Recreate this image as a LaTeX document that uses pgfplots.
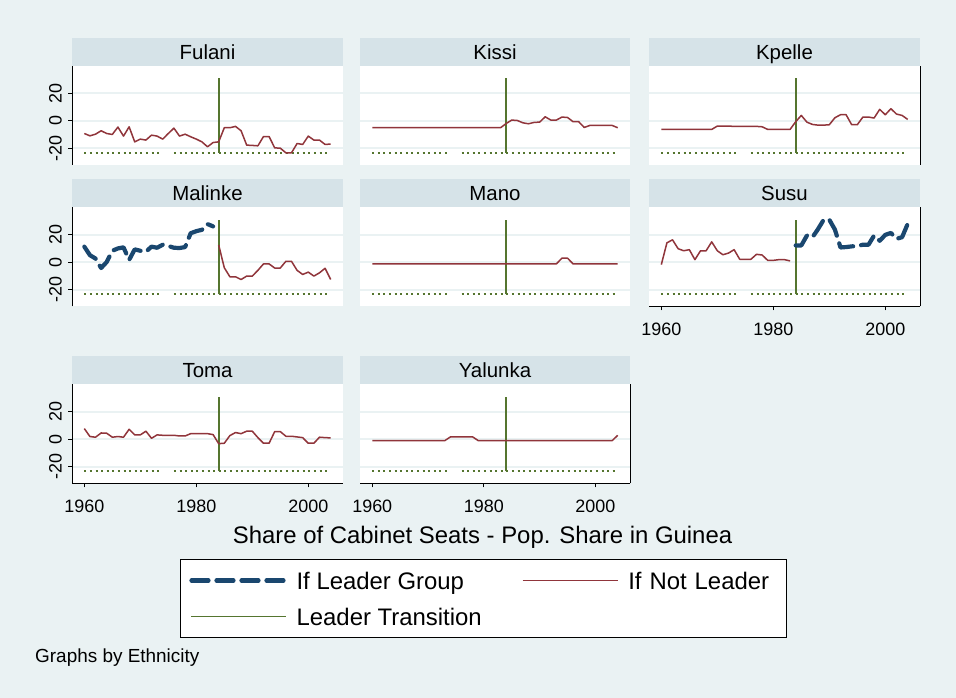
\documentclass[border=0pt]{standalone}
\usepackage{pgfplots}
\pgfplotsset{compat=1.18}
\usepackage{fontspec}
\setmainfont{Liberation Sans}
\definecolor{bgc}{RGB}{234,242,243}
\definecolor{headc}{RGB}{214,227,232}
\definecolor{gridc}{RGB}{234,242,243}
\definecolor{snavy}{RGB}{26,71,111}
\definecolor{smaroon}{RGB}{144,53,59}
\definecolor{sforest}{RGB}{85,117,47}

\pgfplotsset{
  panel/.style={
    scale only axis, width=271bp, height=99bp,
    anchor=south west,
    xmin=1957.8, xmax=2006.2, ymin=-32.3, ymax=40,
    xtick={1960,1980,2000}, ytick={-20,0,20},
    axis x line*=bottom, axis y line*=left,
    x axis line style={draw=none}, y axis line style={draw=none},
    xtick style={draw=none}, ytick style={draw=none},
    xticklabels={}, yticklabels={},
    ymajorgrids, major grid style={draw=gridc, line width=2bp},
    axis background/.style={fill=white},
    tick align=outside, major tick length=4bp,
    ticklabel style={font=\fontsize{18}{20}\selectfont},
    clip=false,
    extra description/.code={
      \fill[headc] (rel axis cs:0,1) rectangle ([yshift=28bp]rel axis cs:1,1);
      \node[font=\fontsize{20.5}{24}\selectfont, anchor=center, inner sep=0pt, text height=14.6bp, text depth=0pt] at ([yshift=14bp]rel axis cs:0.5,1) {#1};
    },
  },
  leftcol/.style={
    y axis line style={draw=black, line width=0.8bp},
    ytick style={draw=black, line width=0.8bp},
    yticklabels={-20,0,20},
    yticklabel style={rotate=90, anchor=south, inner sep=0pt},
    yticklabel shift=6bp,
  },
  botrow/.style={
    x axis line style={draw=black, line width=0.8bp},
    xtick style={draw=black, line width=0.8bp},
    xticklabels={1960,1980,2000},
    xticklabel style={anchor=north, inner sep=0pt},
    xticklabel shift=12bp,
  },
  rline/.style={
    extra description/.append code={
      \draw[black, line width=0.8bp] (rel axis cs:1,0) -- (rel axis cs:1,1);
    },
  },
  nldline/.style={draw=smaroon, line width=1.5bp, line join=round},
  ldrline/.style={draw=snavy, line width=4.2bp, dash pattern=on 17bp off 8bp, line cap=round, line join=round},
  trline/.style={draw=sforest, line width=1.8bp},
  dotl/.style={draw=sforest, line width=2bp, dash pattern=on 2bp off 3.6bp},
}

\newcommand{\common}{%
  \addplot[dotl, forget plot] coordinates {(1960,-23.4) (1974,-23.4)};
  \addplot[dotl, forget plot] coordinates {(1976,-23.4) (2004,-23.4)};
  \addplot[trline, forget plot] coordinates {(1984,-23.4) (1984,31)};
}

\begin{document}
\begin{tikzpicture}
\fill[bgc] (0bp,0bp) rectangle (956bp,698bp);

% ---------- Row 1 ----------
\begin{axis}[panel={Fulani}, leftcol, at={(72bp,533bp)}]
\common
\addplot[nldline] coordinates {
(1960,-9.3) (1961,-11) (1962,-9.8) (1963,-7.3) (1964,-9.3) (1965,-10) (1966,-4.6) (1967,-11.2) (1968,-4.4) (1969,-15.4)
(1970,-13.4) (1971,-14.1) (1972,-10.5) (1973,-11.2) (1974,-13.4) (1975,-9.3) (1976,-5.4) (1977,-11.2) (1978,-9.8) (1979,-11.7)
(1980,-13.4) (1981,-15.4) (1982,-19) (1983,-15.9) (1984,-15.4) (1985,-5.1) (1986,-5.1) (1987,-4.1) (1988,-7.3) (1989,-17.8)
(1990,-18) (1991,-18.3) (1992,-11.5) (1993,-11.5) (1994,-19.8) (1995,-20) (1996,-23.4) (1997,-23.4) (1998,-16.6) (1999,-17.3)
(2000,-11.2) (2001,-14.1) (2002,-14.1) (2003,-17.3) (2004,-17)};
\end{axis}

\begin{axis}[panel={Kissi}, width=270bp, at={(360bp,533bp)}]
\common
\addplot[nldline] coordinates {
(1960,-5.1) (1961,-5.1) (1962,-5.1) (1963,-5.1) (1964,-5.1) (1965,-5.1) (1966,-5.1) (1967,-5.1) (1968,-5.1) (1969,-5.1)
(1970,-5.1) (1971,-5.1) (1972,-5.1) (1973,-5.1) (1974,-5.1) (1975,-5.1) (1976,-5.1) (1977,-5.1) (1978,-5.1) (1979,-5.1)
(1980,-5.1) (1981,-5.1) (1982,-5.1) (1983,-5.1) (1984,-2) (1985,0.5) (1986,0.2) (1987,-1.5) (1988,-2.2) (1989,-1.2)
(1990,-1) (1991,2.9) (1992,0.5) (1993,0.5) (1994,2.7) (1995,2.4) (1996,-0.7) (1997,-0.7) (1998,-4.9) (1999,-3.4)
(2000,-3.4) (2001,-3.4) (2002,-3.4) (2003,-3.4) (2004,-5.1)};
\end{axis}

\begin{axis}[panel={Kpelle}, rline, at={(649bp,533bp)}]
\common
\addplot[nldline] coordinates {
(1960,-6.3) (1961,-6.3) (1962,-6.3) (1963,-6.3) (1964,-6.3) (1965,-6.3) (1966,-6.3) (1967,-6.3) (1968,-6.3) (1969,-6.3)
(1970,-3.9) (1971,-3.9) (1972,-3.9) (1973,-4.1) (1974,-4.1) (1975,-4.1) (1976,-4.1) (1977,-4.1) (1978,-4.4) (1979,-6.3)
(1980,-6.3) (1981,-6.3) (1982,-6.3) (1983,-6.3) (1984,-0.7) (1985,3.9) (1986,-1) (1987,-2.7) (1988,-3.2) (1989,-3.2)
(1990,-2.9) (1991,2.2) (1992,4.4) (1993,4.4) (1994,-2.9) (1995,-2.9) (1996,2.7) (1997,2.7) (1998,2) (1999,8.3)
(2000,4.4) (2001,8.8) (2002,4.9) (2003,3.9) (2004,1)};
\end{axis}

% ---------- Row 2 ----------
\begin{axis}[panel={Malinke}, leftcol, at={(72bp,391.5bp)}]
\common
\addplot[ldrline] coordinates {
(1960,11.4) (1961,5.2) (1962,2.7) (1963,-4.2) (1964,0.2) (1965,8.4) (1966,10.1) (1967,10.9) (1968,1.7) (1969,9.4)
(1970,8.4) (1971,7.7) (1972,11.4) (1973,10.6) (1974,12.8) (1975,11.9) (1976,10.6) (1977,10.4) (1978,11.1) (1979,21.2)
(1980,22.7) (1981,23.7) (1982,27.9) (1983,26.2)};
\addplot[nldline] coordinates {
(1984,12.6) (1985,-4) (1986,-10.6) (1987,-10.6) (1988,-12.6) (1989,-10.1)
(1990,-10.1) (1991,-5.9) (1992,-1.2) (1993,-1.2) (1994,-4.2) (1995,-4.2) (1996,0.7) (1997,0.7) (1998,-5.9) (1999,-8.9)
(2000,-7.2) (2001,-10.1) (2002,-7.7) (2003,-4.4) (2004,-12.6)};
\end{axis}

\begin{axis}[panel={Mano}, width=270bp, at={(360bp,391.5bp)}]
\common
\addplot[nldline] coordinates {
(1960,-1.2) (1961,-1.2) (1962,-1.2) (1963,-1.2) (1964,-1.2) (1965,-1.2) (1966,-1.2) (1967,-1.2) (1968,-1.2) (1969,-1.2)
(1970,-1.2) (1971,-1.2) (1972,-1.2) (1973,-1.2) (1974,-1.2) (1975,-1.2) (1976,-1.2) (1977,-1.2) (1978,-1.2) (1979,-1.2)
(1980,-1.2) (1981,-1.2) (1982,-1.2) (1983,-1.2) (1984,-1.2) (1985,-1.2) (1986,-1.2) (1987,-1.2) (1988,-1.2) (1989,-1.2)
(1990,-1.2) (1991,-1.2) (1992,-1.2) (1993,-1.2) (1994,3) (1995,3) (1996,-1.2) (1997,-1.2) (1998,-1.2) (1999,-1.2)
(2000,-1.2) (2001,-1.2) (2002,-1.2) (2003,-1.2) (2004,-1.2)};
\end{axis}

\begin{axis}[panel={Susu}, botrow, rline, at={(649bp,391.5bp)}]
\common
\addplot[nldline] coordinates {
(1960,-1.7) (1961,14.2) (1962,16.4) (1963,9.9) (1964,8.4) (1965,9.2) (1966,1.9) (1967,8.4) (1968,8.4) (1969,14.9)
(1970,8.4) (1971,5.5) (1972,6.7) (1973,9.2) (1974,2.2) (1975,2.2) (1976,2.2) (1977,5.8) (1978,5.3) (1979,1.4)
(1980,1.4) (1981,1.9) (1982,1.9) (1983,1)};
\addplot[ldrline] coordinates {
(1984,12.3) (1985,12.3) (1986,19.5) (1987,18.3) (1988,24.3) (1989,31.1)
(1990,31.1) (1991,23.9) (1992,10.8) (1993,11.1) (1994,11.6) (1995,11.8) (1996,12.8) (1997,12.8) (1998,19.5) (1999,15.7)
(2000,20) (2001,21.4) (2002,17.1) (2003,18.3) (2004,28)};
\end{axis}

% ---------- Row 3 ----------
\begin{axis}[panel={Toma}, leftcol, botrow, at={(72bp,214.5bp)},
  legend columns=2,
  legend style={at={(0.3985,-0.7626)}, anchor=north west, draw=black, line width=0.8bp, fill=white,
    inner xsep=9bp, inner ysep=9bp, row sep=12bp,
    font=\fontsize{24}{27}\selectfont,
    cells={anchor=west},
    nodes={inner xsep=0pt, inner ysep=0pt, text height=21bp, text depth=3bp},
    /tikz/column 1/.style={column sep=8bp},
    /tikz/column 2/.style={column sep=40bp},
    /tikz/column 3/.style={column sep=10bp},
    /tikz/column 4/.style={text width=149bp},
  },
  legend image code/.code={\draw[#1] (0bp,0bp) -- (95bp,0bp);},
]
\addlegendimage{draw=snavy, line width=4.2bp, dash pattern=on 17bp off 8bp, line cap=round}
\addlegendentry{If Leader Group}
\addlegendimage{draw=smaroon, line width=1.5bp}
\addlegendentry{If Not Leader}
\addlegendimage{draw=sforest, line width=1.8bp}
\addlegendentry{Leader Transition}
\common
\addplot[nldline, forget plot] coordinates {
(1960,7.8) (1961,2) (1962,1.5) (1963,4.6) (1964,4.4) (1965,1.5) (1966,2) (1967,1.5) (1968,7.3) (1969,3.2)
(1970,3.2) (1971,5.9) (1972,0.7) (1973,3.2) (1974,2.9) (1975,2.9) (1976,2.9) (1977,2.4) (1978,2.4) (1979,4.1)
(1980,4.1) (1981,4.1) (1982,4.1) (1983,3.4) (1984,-3.2) (1985,-2.9) (1986,2.7) (1987,4.9) (1988,4.1) (1989,5.9)
(1990,5.9) (1991,1.2) (1992,-2.9) (1993,-2.9) (1994,5.6) (1995,5.6) (1996,2.2) (1997,2.2) (1998,1.7) (1999,1.2)
(2000,-2.9) (2001,-2.9) (2002,1.5) (2003,1.2) (2004,1)};
\end{axis}

\begin{axis}[panel={Yalunka}, width=270bp, botrow, rline, at={(360bp,214.5bp)}]
\common
\addplot[nldline] coordinates {
(1960,-1) (1961,-1) (1962,-1) (1963,-1) (1964,-1) (1965,-1) (1966,-1) (1967,-1) (1968,-1) (1969,-1)
(1970,-1) (1971,-1) (1972,-1) (1973,-1) (1974,1.7) (1975,1.7) (1976,1.7) (1977,1.7) (1978,1.7) (1979,-1)
(1980,-1) (1981,-1) (1982,-1) (1983,-1) (1984,-1) (1985,-1) (1986,-1) (1987,-1) (1988,-1) (1989,-1)
(1990,-1) (1991,-1) (1992,-1) (1993,-1) (1994,-1) (1995,-1) (1996,-1) (1997,-1) (1998,-1) (1999,-1)
(2000,-1) (2001,-1) (2002,-1) (2003,-1) (2004,2.9)};
\end{axis}

\node[font=\fontsize{24}{28}\selectfont, anchor=center] at (482.5bp,161bp) {Share of Cabinet Seats - Pop. Share in Guinea};
\node[font=\fontsize{19}{22}\selectfont, anchor=west, inner sep=0pt] at (35bp,40bp) {Graphs by Ethnicity};
\end{tikzpicture}
\end{document}
